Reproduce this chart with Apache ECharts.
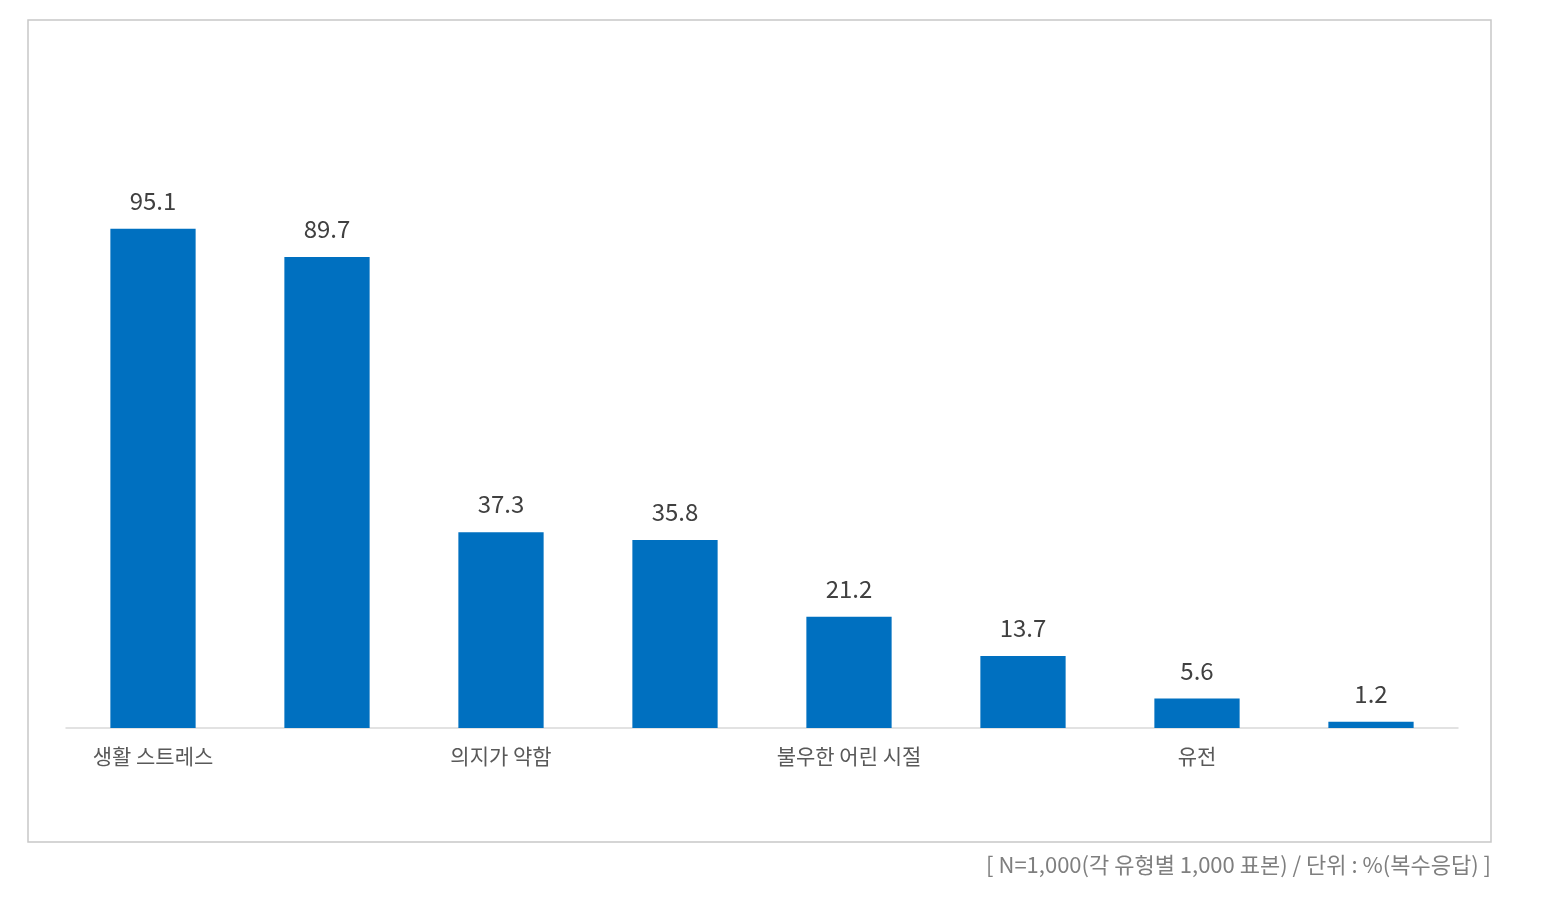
<!DOCTYPE html>
<html><head><meta charset="utf-8">
<script src="https://cdn.jsdelivr.net/npm/echarts@6/dist/echarts.min.js"></script>
<style>html,body{margin:0;background:#fff}#c{width:1552px;height:912px}</style>
</head><body><div id="c"></div>
<script>
const categories = ['생활 스트레스','성격적 요인','의지가 약함','외상적 사건','불우한 어린 시절','뇌기능 이상','유전','기타'];
const values = [95.1, 89.7, 37.3, 35.8, 21.2, 13.7, 5.6, 1.2];
const font = '"Noto Sans CJK KR", "Noto Sans", sans-serif';
const chart = echarts.init(document.getElementById('c'));
chart.setOption({
  animation: false,
  grid: {left: 66, right: 94, top: 203, bottom: 184},
  graphic: [
    {type: 'rect', shape: {x: 28, y: 20, width: 1463, height: 822}, style: {fill: 'none', stroke: '#c8c8c8', lineWidth: 1.5}},
    {type: 'text', right: 61, top: 854, style: {text: '[ N=1,000(각 유형별 1,000 표본) / 단위 : %(복수응답) ]', fill: '#7f7f7f', font: '22px ' + font}}
  ],
  xAxis: {type: 'category', data: categories,
    axisLine: {lineStyle: {color: '#d9d9d9', width: 1.5}}, axisTick: {show: false},
    axisLabel: {color: '#595959', fontSize: 21, fontFamily: font, margin: 18}},
  yAxis: {type: 'value', min: 0, max: 100, show: false, splitLine: {show: false}},
  series: [{type: 'bar', data: values, barWidth: '49%',
    itemStyle: {color: '#0070C0'},
    label: {show: true, position: 'top', distance: 16, color: '#404040', fontSize: 24, fontFamily: font,
      formatter: p => p.value.toFixed(1)}}]
});
</script></body></html>
